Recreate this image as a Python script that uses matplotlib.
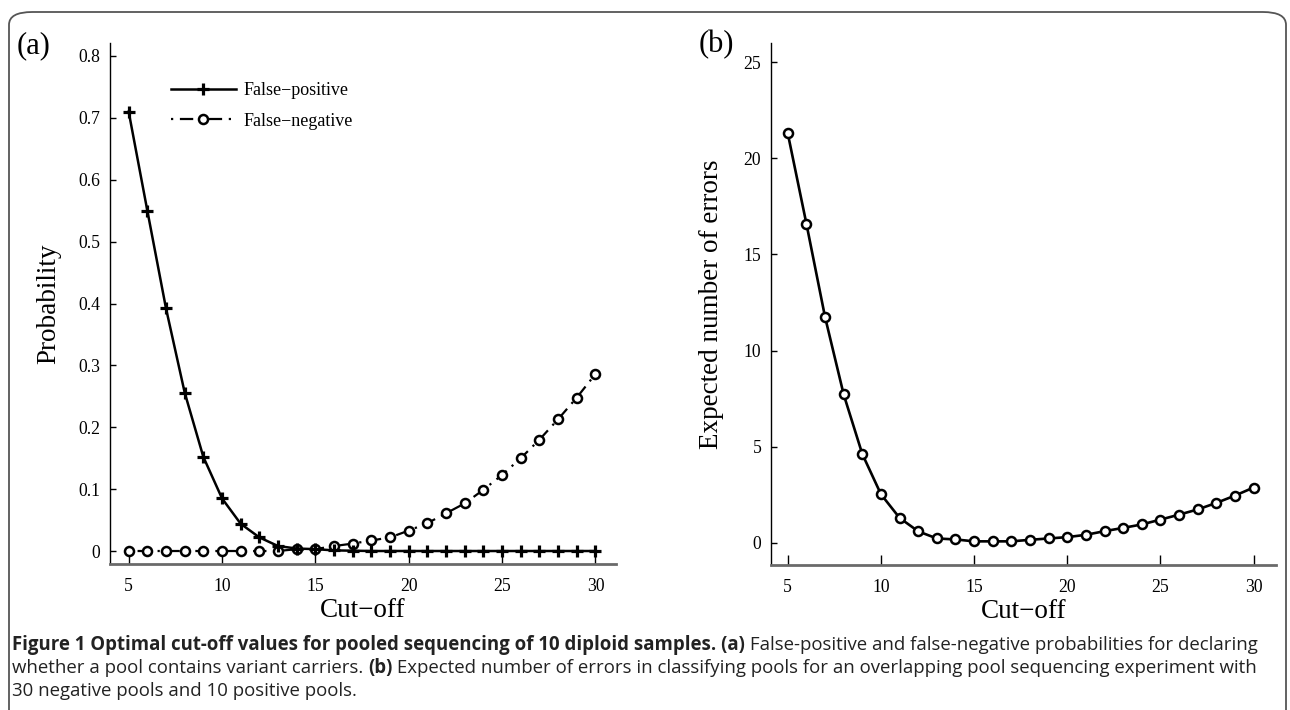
import matplotlib
matplotlib.use("Agg")
import matplotlib.pyplot as plt
from matplotlib.patches import FancyBboxPatch

# cut-off values, shared by both panels
cutoff = list(range(5, 31))

# (a) probabilities
false_pos = [0.710, 0.550, 0.392, 0.256, 0.152, 0.085, 0.044, 0.022, 0.008, 0.004,
             0.003, 0.001, 0.0005, 0, 0, 0, 0, 0, 0, 0, 0, 0, 0, 0, 0, 0]
false_neg = [0, 0, 0, 0, 0, 0, 0, 0, 0, 0.003, 0.003, 0.008, 0.012, 0.017, 0.022,
             0.033, 0.045, 0.061, 0.077, 0.099, 0.123, 0.150, 0.180, 0.213, 0.248, 0.286]

# (b) expected number of errors
exp_errors = [21.3, 16.6, 11.75, 7.72, 4.62, 2.53, 1.30, 0.60, 0.23, 0.18, 0.08, 0.08,
              0.08, 0.16, 0.23, 0.30, 0.42, 0.61, 0.78, 0.96, 1.21, 1.47, 1.74, 2.08, 2.46, 2.88]

xticks = [5, 10, 15, 20, 25, 30]
yticks_a = [0, 0.1, 0.2, 0.3, 0.4, 0.5, 0.6, 0.7, 0.8]
ylabels_a = ["0", "0.1", "0.2", "0.3", "0.4", "0.5", "0.6", "0.7", "0.8"]
yticks_b = [0, 5, 10, 15, 20, 25]

W, H = 1290, 710
fig = plt.figure(figsize=(W / 100, H / 100), dpi=100)

serif = "Liberation Serif"


def style_axes(ax):
    ax.spines["top"].set_visible(False)
    ax.spines["right"].set_visible(False)
    ax.spines["left"].set_linewidth(1.0)
    ax.spines["bottom"].set_linewidth(2.0)
    ax.spines["bottom"].set_color("#6a6a6a")
    ax.tick_params(axis="x", direction="in", length=7, width=1, labelsize=12.7, pad=10)
    ax.tick_params(axis="y", direction="in", length=4, width=1, labelsize=12.7, pad=7)
    for lab in ax.get_xticklabels() + ax.get_yticklabels():
        lab.set_family(serif)


# panel (a)
ax1 = fig.add_axes([110 / W, 1 - 564 / H, 506 / W, 521 / H])
ax1.plot(cutoff, false_neg, color="black", lw=1.6, ls=(0, (1, 3, 6, 3)),
         marker="o", ms=6.5, mfc="white", mec="black", mew=1.8, label="False\u2212negative")
ax1.plot(cutoff, false_pos, color="black", lw=1.8, marker="+", ms=9, mew=2.3,
         label="False\u2212positive")
ax1.set_xlim(4, 31.1)
ax1.set_ylim(-0.021, 0.821)
ax1.set_xticks(xticks)
ax1.set_yticks(yticks_a)
ax1.set_yticklabels(ylabels_a)
style_axes(ax1)
ax1.set_xlabel("Cut\u2212off", family=serif, fontsize=19.5, labelpad=2)
ax1.set_ylabel("Probability", family=serif, fontsize=19.5, labelpad=12)
h, l = ax1.get_legend_handles_labels()
ax1.legend(h[::-1], l[::-1], loc="upper left", bbox_to_anchor=(0.12, 0.925), frameon=False,
           prop={"family": serif, "size": 13}, handlelength=3.6, handletextpad=0.45,
           labelspacing=0.75, borderpad=0, borderaxespad=0)

# panel (b)
ax2 = fig.add_axes([771 / W, 1 - 565 / H, 505 / W, 522 / H])
ax2.plot(cutoff, exp_errors, color="black", lw=1.9, marker="o", ms=6.5,
         mfc="white", mec="black", mew=1.8)
ax2.set_xlim(4.1, 31.2)
ax2.set_ylim(-1.15, 26.0)
ax2.set_xticks(xticks)
ax2.set_yticks(yticks_b)
style_axes(ax2)
ax2.set_xlabel("Cut\u2212off", family=serif, fontsize=19.5, labelpad=2)
ax2.set_ylabel("Expected number of errors", family=serif, fontsize=19.5, labelpad=14)

# panel letters
fig.text(34 / W, 1 - 46 / H, "(a)", family=serif, fontsize=22, ha="center", va="center")
fig.text(716 / W, 1 - 45 / H, "(b)", family=serif, fontsize=22, ha="center", va="center")

# rounded frame around the figure
frame = FancyBboxPatch((9 / W, -0.2), (1286 - 9) / W, 1.2 - 12 / H,
                       boxstyle="round,pad=0,rounding_size=0.018",
                       transform=fig.transFigure, fill=False, ec="#555555", lw=1.3)
fig.patches.append(frame)

# caption with bold and regular pieces
caption = [
    [("Figure 1 Optimal cut-off values for pooled sequencing of 10 diploid samples. (a)", "bold"),
     (" False-positive and false-negative probabilities for declaring", "normal")],
    [("whether a pool contains variant carriers. ", "normal"), ("(b)", "bold"),
     (" Expected number of errors in classifying pools for an overlapping pool sequencing experiment with", "normal")],
    [("30 negative pools and 10 positive pools.", "normal")],
]
cap_y = [645, 668, 691]
renderer = fig.canvas.get_renderer()
for line, yy in zip(caption, cap_y):
    x = 12
    for txt, wt in line:
        t = fig.text(x / W, 1 - yy / H, txt, family="Open Sans", fontsize=13.4,
                     weight=wt, color="#222222", va="center", ha="left")
        bb = t.get_window_extent(renderer=renderer)
        x += bb.width

fig.savefig("out.png", dpi=100)
